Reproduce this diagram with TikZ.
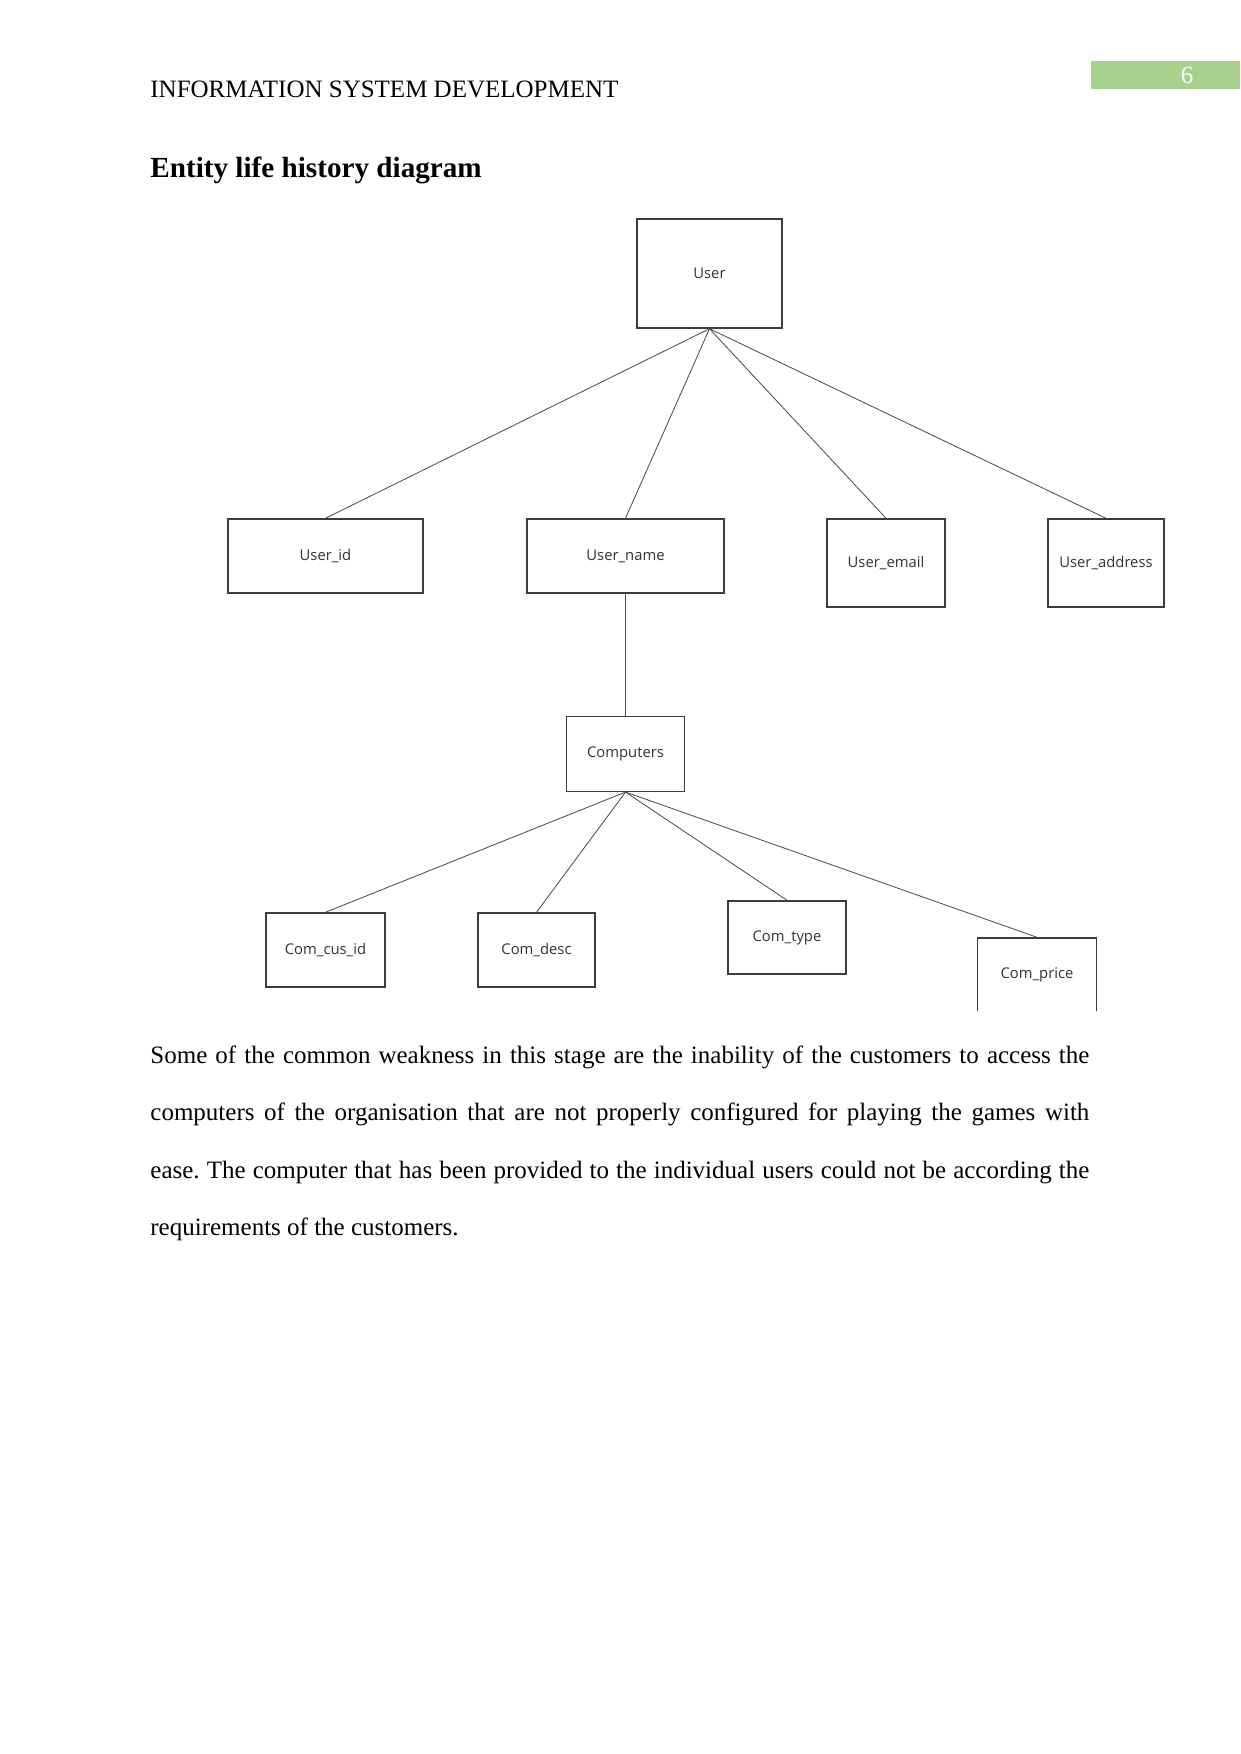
\documentclass[tikz,border=0pt]{standalone}
\usepackage{fontspec}
\setmainfont{Liberation Serif}
\newfontfamily\diagfont{Open Sans}
\usetikzlibrary{positioning}
\definecolor{hdrgreen}{HTML}{A9D18E}
\definecolor{boxgray}{HTML}{3C3C3C}
\frenchspacing

\begin{document}
\begin{tikzpicture}[
  x=0.48pt, y=-0.48pt,
  entity/.style 2 args={draw=boxgray, line width=0.7pt, fill=white, inner sep=0pt,
                        font=\diagfont\fontsize{7.1}{8}\selectfont, text=black!80,
                        minimum width=#1*0.48pt, minimum height=#2*0.48pt},
  link/.style={draw=black!70, line width=0.4pt},
  hdr/.style={font=\fontsize{12}{14}\selectfont, inner sep=0pt},
  ttl/.style={font=\fontsize{14}{16}\selectfont\bfseries, inner sep=0pt},
  para/.style={text width=450.7pt, align=justify, inner sep=0pt,
               font=\fontsize{12}{27.6}\selectfont},
]
\useasboundingbox (0,0) rectangle (1241,1754);

%% Cabecera de pagina
\node[hdr, anchor=base west] (runhead) at (150,97) {INFORMATION SYSTEM DEVELOPMENT};
\node[fill=hdrgreen, minimum width=71.5pt, minimum height=13.4pt, inner sep=0pt] (pagebox) at (1165.5,75) {};
\node[hdr, text=white] (pagenum) at (1187,75) {6};

\node[ttl, anchor=base west] (title) at (150,177) {Entity life history diagram};

%% Diagrama (recortado abajo, como la imagen)
\begin{scope}
\clip (0,0) rectangle (1241,1010);

\node[entity={145}{109}] (user) at (709.5,273.5) {User};

\node[entity={195}{74}]  (uid)    at (325.5,556) {User\_id};
\node[entity={197}{74}]  (uname)  at (625.5,556) {User\_name};
\node[entity={118}{88}]  (uemail) at (886,563)   {User\_email};
\node[entity={116}{88}]  (uaddr)  at (1106,563)  {User\_address};

\node[entity={118}{75}, below=58.5pt of uname] (comp) {Computers};

\node[entity={119}{74}] (ccus)   at (325.5,950) {Com\_cus\_id};
\node[entity={117}{74}] (cdesc)  at (536.5,950) {Com\_desc};
\node[entity={118}{73}] (ctype)  at (787,937.5) {Com\_type};
\node[entity={119}{74}] (cprice) at (1037,975)  {Com\_price};

%% Lineas de User a sus atributos
\draw[link] (user.south) -- (uid.north);
\draw[link] (user.south) -- (uname.north);
\draw[link] (user.south) -- (uemail.north);
\draw[link] (user.south) -- (uaddr.north);

\draw[link] (uname.south) -- (comp.north);

%% Lineas de Computers
\draw[link] (comp.south) -- (ccus.north);
\draw[link] (comp.south) -- (cdesc.north);
\draw[link] (comp.south) -- (ctype.north);
\draw[link] (comp.south) -- (cprice.north);
\end{scope}

%% Texto
\node[para, anchor=north west] (body) at (150,1045) {Some of the common weakness in this stage are the inability of the customers to access the\linebreak
computers of the organisation that are not properly configured for playing the games with\linebreak
ease. The computer that has been provided to the individual users could not be according the\linebreak
requirements of the customers.};

\end{tikzpicture}
\end{document}
